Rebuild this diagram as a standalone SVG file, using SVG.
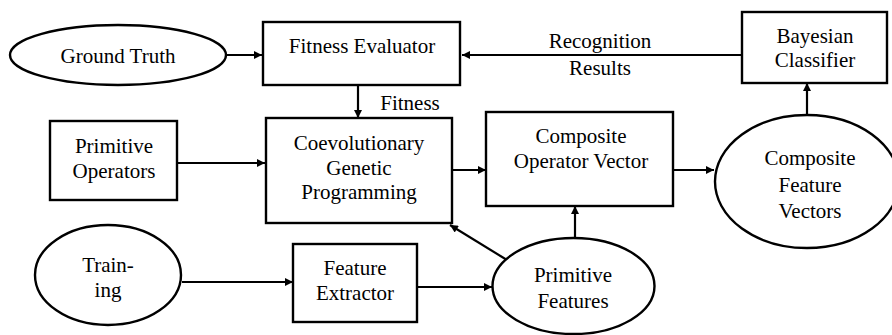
<svg xmlns="http://www.w3.org/2000/svg" width="892" height="335" viewBox="0 0 892 335" font-family="'Liberation Serif', 'DejaVu Serif', serif">
<defs>
<style>
.n{fill:#fff;stroke:#000;stroke-width:2.4}
.t{font-family:'Liberation Serif','DejaVu Serif',serif;font-size:21px;fill:#000;text-anchor:middle}
.c{fill:none;stroke:#000;stroke-width:2.2}
</style>
<marker id="ah" viewBox="0 0 10 10" refX="10" refY="5" markerWidth="10" markerHeight="8" markerUnits="userSpaceOnUse" orient="auto">
<path d="M0,0 L10,5 L0,10 z" fill="#000"/>
</marker>
</defs>
<rect width="892" height="335" fill="#fff"/>
<g id="connectors">
<line class="c" x1="227" y1="55" x2="262" y2="55" marker-end="url(#ah)"/>
<line class="c" x1="742" y1="55" x2="462" y2="55" marker-end="url(#ah)"/>
<line class="c" x1="358" y1="85" x2="358" y2="118" marker-end="url(#ah)"/>
<line class="c" x1="177" y1="163" x2="265" y2="163" marker-end="url(#ah)"/>
<line class="c" x1="452" y1="170" x2="486" y2="170" marker-end="url(#ah)"/>
<line class="c" x1="673" y1="170" x2="714" y2="170" marker-end="url(#ah)"/>
<line class="c" x1="807" y1="115" x2="807" y2="83" marker-end="url(#ah)"/>
<line class="c" x1="575" y1="238" x2="575" y2="206" marker-end="url(#ah)"/>
<line class="c" x1="507" y1="260" x2="450" y2="225" marker-end="url(#ah)"/>
<line class="c" x1="182" y1="282" x2="293" y2="282" marker-end="url(#ah)"/>
<line class="c" x1="417" y1="287" x2="492" y2="287" marker-end="url(#ah)"/>
<text class="t" x="410" y="110">Fitness</text>
<text class="t" x="600" y="48">Recognition</text>
<text class="t" x="600" y="75">Results</text>
</g>
<g id="ground-truth">
<ellipse class="n" cx="118" cy="55" rx="108" ry="30"/>
<text class="t" x="118" y="63">Ground Truth</text>
</g>
<g id="fitness-evaluator">
<rect class="n" x="263" y="22" width="197" height="63"/>
<text class="t" x="362" y="53">Fitness Evaluator</text>
</g>
<g id="bayesian-classifier">
<rect class="n" x="742" y="12" width="145" height="71"/>
<text class="t" x="815" y="43">Bayesian</text>
<text class="t" x="815" y="67">Classifier</text>
</g>
<g id="primitive-operators">
<rect class="n" x="50" y="121" width="127" height="79"/>
<text class="t" x="114" y="153">Primitive</text>
<text class="t" x="114" y="178">Operators</text>
</g>
<g id="coevolutionary-gp">
<rect class="n" x="266" y="118" width="186" height="105"/>
<text class="t" x="359" y="150">Coevolutionary</text>
<text class="t" x="359" y="175">Genetic</text>
<text class="t" x="359" y="199">Programming</text>
</g>
<g id="composite-operator-vector">
<rect class="n" x="486" y="112" width="187" height="94"/>
<text class="t" x="581" y="143">Composite</text>
<text class="t" x="581" y="168">Operator Vector</text>
</g>
<g id="composite-feature-vectors">
<ellipse class="n" cx="807" cy="181.5" rx="92" ry="66.5"/>
<text class="t" x="810" y="165">Composite</text>
<text class="t" x="810" y="192">Feature</text>
<text class="t" x="810" y="218">Vectors</text>
</g>
<g id="training">
<ellipse class="n" cx="108" cy="275" rx="73" ry="50"/>
<text class="t" x="108" y="272">Train-</text>
<text class="t" x="108" y="297">ing</text>
</g>
<g id="feature-extractor">
<rect class="n" x="293" y="244" width="124" height="78"/>
<text class="t" x="355" y="275">Feature</text>
<text class="t" x="355" y="300">Extractor</text>
</g>
<g id="primitive-features">
<ellipse class="n" cx="573.5" cy="286" rx="81" ry="48"/>
<text class="t" x="573" y="282">Primitive</text>
<text class="t" x="573" y="308">Features</text>
</g>
</svg>
